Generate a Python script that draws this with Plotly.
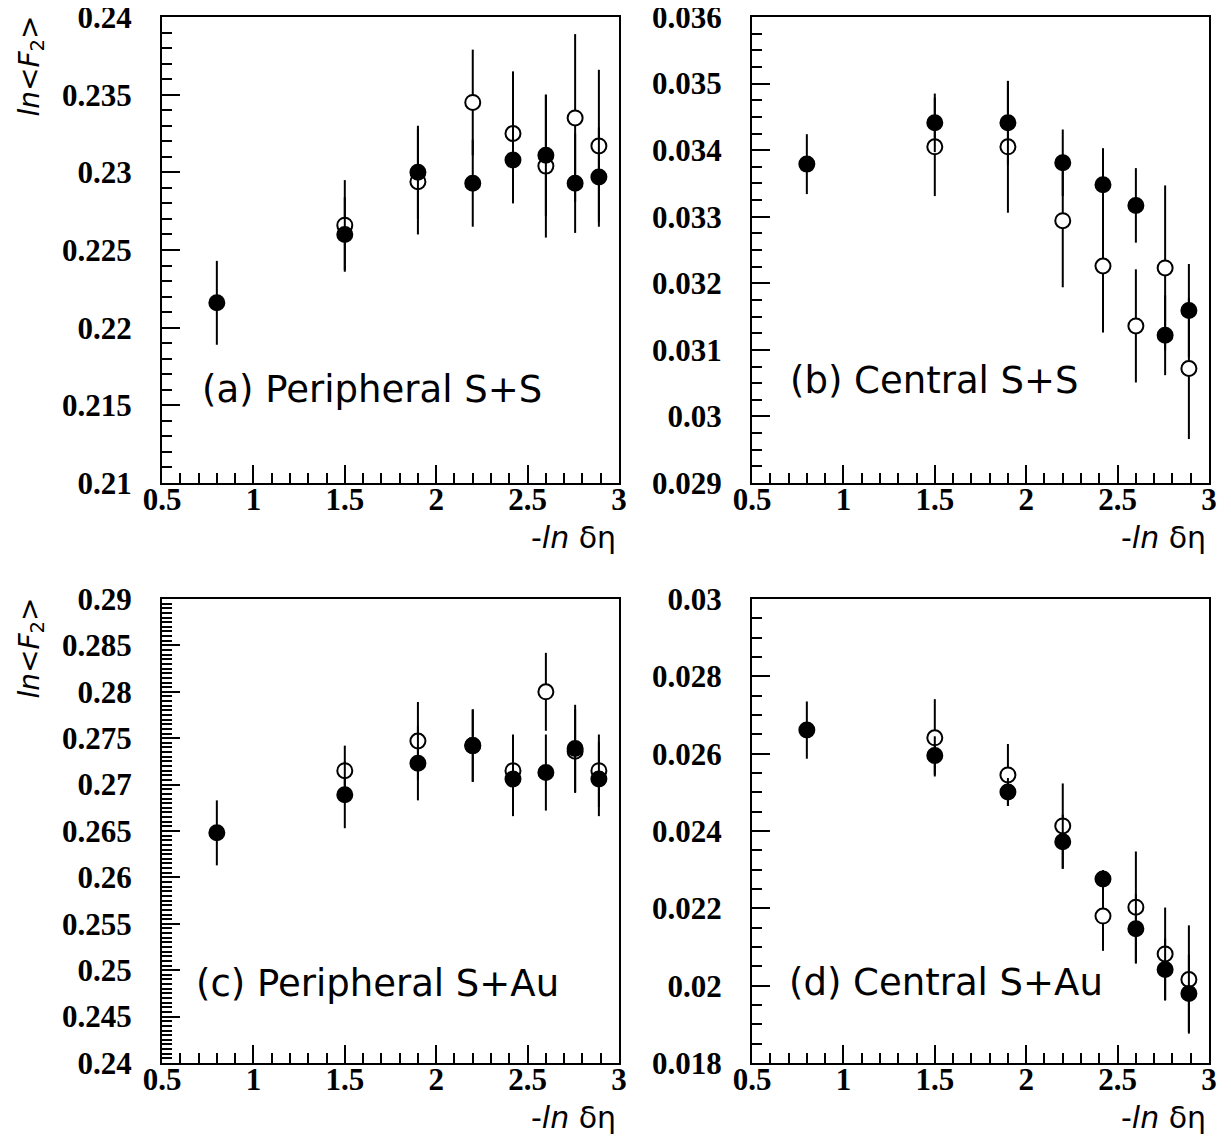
import plotly.graph_objects as go

W, H = 1231, 1137
OFF = 8  # page body margin
FW, FH = W - OFF, H - OFF

# ---- data ----
x_filled = [0.80, 1.50, 1.90, 2.20, 2.42, 2.60, 2.76, 2.89]
x_open = [1.50, 1.90, 2.20, 2.42, 2.60, 2.76, 2.89]

a_filled = [0.2216, 0.2260, 0.2300, 0.2293, 0.2308, 0.2311, 0.2293, 0.2297]
a_filled_err = [0.0027, 0.0024, 0.0030, 0.0028, 0.0028, 0.0039, 0.0032, 0.0032]
a_open = [0.2266, 0.2294, 0.2345, 0.2325, 0.2304, 0.2335, 0.2317]
a_open_err = [0.0029, 0.0034, 0.0034, 0.0040, 0.0046, 0.0054, 0.0049]

b_filled = [0.03379, 0.03441, 0.03441, 0.03381, 0.03348, 0.03317, 0.03122, 0.03159]
b_filled_err = [0.00045, 0.00044, 0.00063, 0.00050, 0.00055, 0.00056, 0.00060, 0.00070]
b_open = [0.03405, 0.03405, 0.03294, 0.03226, 0.03136, 0.03223, 0.03072]
b_open_err = [0.00074, 0.00099, 0.00100, 0.00100, 0.00085, 0.00124, 0.00106]

c_filled = [0.2648, 0.2689, 0.2723, 0.2742, 0.2706, 0.2713, 0.2739, 0.2706]
c_filled_err = [0.0035, 0.0036, 0.0040, 0.0039, 0.0040, 0.0041, 0.0047, 0.0040]
c_open = [0.2715, 0.2747, 0.2742, 0.2715, 0.2800, 0.2736, 0.2715]
c_open_err = [0.0027, 0.0042, 0.0039, 0.0039, 0.0042, 0.0045, 0.0039]

d_filled = [0.02661, 0.02595, 0.02501, 0.02372, 0.02276, 0.02147, 0.02042, 0.01980]
d_filled_err = [0.00074, 0.00050, 0.00036, 0.00070, 0.00023, 0.00090, 0.00080, 0.00100]
d_open = [0.02641, 0.02545, 0.02413, 0.02180, 0.02203, 0.02082, 0.02016]
d_open_err = [0.00100, 0.00080, 0.00110, 0.00090, 0.00144, 0.00120, 0.00140]

x_tickvals = [0.5, 1, 1.5, 2, 2.5, 3]
x_ticktext = ["0.5", "1", "1.5", "2", "2.5", "3"]

a_tickvals = [0.21, 0.215, 0.22, 0.225, 0.23, 0.235, 0.24]
a_ticktext = ["0.21", "0.215", "0.22", "0.225", "0.23", "0.235", "0.24"]
b_tickvals = [0.029, 0.030, 0.031, 0.032, 0.033, 0.034, 0.035, 0.036]
b_ticktext = ["0.029", "0.03", "0.031", "0.032", "0.033", "0.034", "0.035", "0.036"]
c_tickvals = [0.24, 0.245, 0.25, 0.255, 0.26, 0.265, 0.27, 0.275, 0.28, 0.285, 0.29]
c_ticktext = ["0.24", "0.245", "0.25", "0.255", "0.26", "0.265", "0.27", "0.275", "0.28", "0.285", "0.29"]
d_tickvals = [0.018, 0.020, 0.022, 0.024, 0.026, 0.028, 0.030]
d_ticktext = ["0.018", "0.02", "0.022", "0.024", "0.026", "0.028", "0.03"]

labels = ["(a) Peripheral S+S", "(b) Central S+S", "(c) Peripheral S+Au", "(d) Central S+Au"]


def px(xp):
    return (xp - OFF) / FW


def py(yp):
    return 1 - (yp - OFF) / FH


panels = [
    dict(filled=a_filled, ferr=a_filled_err, open=a_open, oerr=a_open_err,
         yrange=[0.21, 0.24], tv=a_tickvals, tt=a_ticktext, minor=0.001,
         xdom=[162, 619], ydom=[17, 483], label=labels[0], lx=0.083, ly=0.200),
    dict(filled=b_filled, ferr=b_filled_err, open=b_open, oerr=b_open_err,
         yrange=[0.029, 0.036], tv=b_tickvals, tt=b_ticktext, minor=0.00025,
         xdom=[752, 1209], ydom=[17, 483], label=labels[1], lx=0.078, ly=0.221),
    dict(filled=c_filled, ferr=c_filled_err, open=c_open, oerr=c_open_err,
         yrange=[0.24, 0.29], tv=c_tickvals, tt=c_ticktext, minor=0.0005,
         xdom=[162, 619], ydom=[599, 1063], label=labels[2], lx=0.071, ly=0.172),
    dict(filled=d_filled, ferr=d_filled_err, open=d_open, oerr=d_open_err,
         yrange=[0.018, 0.030], tv=d_tickvals, tt=d_ticktext, minor=0.0005,
         xdom=[752, 1209], ydom=[599, 1063], label=labels[3], lx=0.077, ly=0.174),
]

TICKFONT = dict(family="Liberation Serif", size=31, color="black", weight="bold")
MSIZE = 15

fig = go.Figure()
annotations = []
layout = {}
for i, p in enumerate(panels):
    n = "" if i == 0 else str(i + 1)
    xref, yref = "x" + n, "y" + n
    fig.add_trace(go.Scatter(
        x=x_open, y=p["open"], mode="markers", xaxis=xref, yaxis=yref,
        marker=dict(symbol="circle", size=MSIZE, color="white",
                    line=dict(color="black", width=2)),
        error_y=dict(type="data", array=p["oerr"], visible=True, color="black",
                     thickness=2, width=0),
        showlegend=False))
    fig.add_trace(go.Scatter(
        x=x_filled, y=p["filled"], mode="markers", xaxis=xref, yaxis=yref,
        marker=dict(symbol="circle", size=MSIZE, color="black",
                    line=dict(color="black", width=2)),
        error_y=dict(type="data", array=p["ferr"], visible=True, color="black",
                     thickness=2, width=0),
        showlegend=False))
    layout["xaxis" + n] = dict(
        domain=[px(p["xdom"][0]), px(p["xdom"][1])], anchor=yref, range=[0.5, 3],
        tickmode="array", tickvals=x_tickvals, ticktext=x_ticktext,
        ticks="inside", ticklen=18, tickwidth=2, tickcolor="black",
        minor=dict(ticks="inside", dtick=0.1, tick0=0.5, ticklen=10, tickwidth=2, tickcolor="black", showgrid=False),
        showline=True, linewidth=2, linecolor="black", mirror=True,
        showgrid=False, zeroline=False, tickfont=TICKFONT, ticklabelstandoff=-12,
        ticklabeloverflow="allow", automargin=False)
    layout["yaxis" + n] = dict(
        domain=[py(p["ydom"][1]), py(p["ydom"][0])], anchor=xref, range=p["yrange"],
        tickmode="array", tickvals=p["tv"], ticktext=p["tt"],
        ticks="inside", ticklen=18, tickwidth=2, tickcolor="black",
        minor=dict(ticks="inside", dtick=p["minor"], tick0=p["yrange"][0], ticklen=10, tickwidth=2, tickcolor="black", showgrid=False),
        showline=True, linewidth=2, linecolor="black", mirror=True,
        showgrid=False, zeroline=False, tickfont=TICKFONT, ticklabelstandoff=22,
        ticklabeloverflow="allow", automargin=False)
    annotations.append(dict(
        text=p["label"], xref=xref + " domain", yref=yref + " domain",
        x=p["lx"], y=p["ly"], xanchor="left", yanchor="middle", showarrow=False,
        font=dict(family="DejaVu Sans", size=37, color="black")))
    # x-axis title
    annotations.append(dict(
        text="-<i>ln</i> δη", xref="paper", yref="paper",
        x=px(p["xdom"][1] - 1), y=py(p["ydom"][1] + 54),
        xanchor="right", yanchor="middle", showarrow=False,
        font=dict(family="DejaVu Sans", size=30, color="black")))
    # y-axis title for left column
    if i in (0, 2):
        annotations.append(dict(
            text="<i>ln</i>&lt;<i>F</i><sub>2</sub>&gt;", xref="paper", yref="paper",
            x=px(31), y=py(p["ydom"][0] - 3), textangle=-90,
            xanchor="center", yanchor="top", showarrow=False,
            font=dict(family="DejaVu Sans", size=28, color="black")))

fig.update_layout(
    width=FW, height=FH, margin=dict(l=0, r=0, t=0, b=0, autoexpand=False),
    paper_bgcolor="white", plot_bgcolor="white",
    annotations=annotations, **layout)

fig.write_html("out.html")
